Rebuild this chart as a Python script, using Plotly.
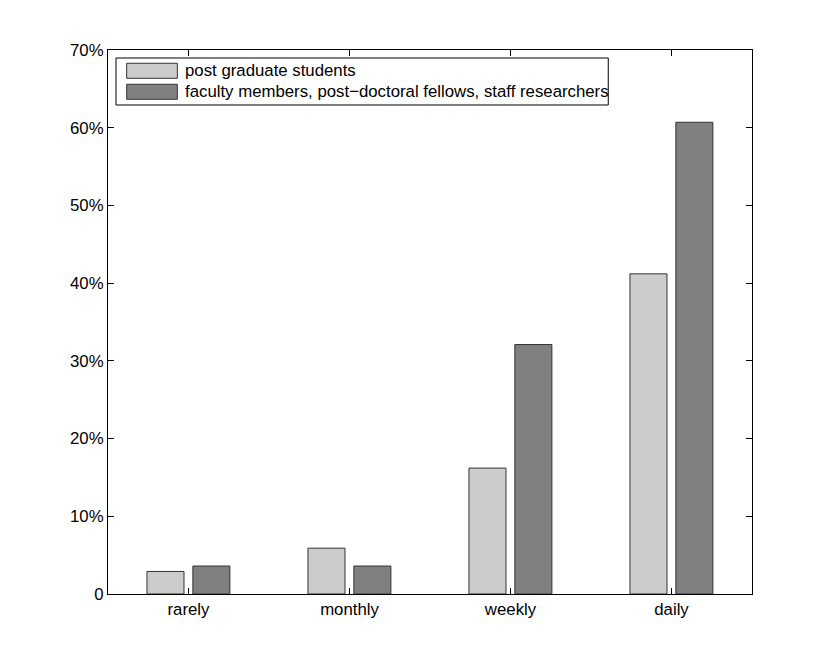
import plotly.graph_objects as go

categories = ["rarely", "monthly", "weekly", "daily"]
postgrad = [2.9, 5.9, 16.2, 41.2]
faculty = [3.6, 3.6, 32.1, 60.7]
series_names = ["post graduate students",
                "faculty members, post\u2212doctoral fellows, staff researchers"]
ytick_vals = [0, 10, 20, 30, 40, 50, 60, 70]
ytick_text = ["0", "10%", "20%", "30%", "40%", "50%", "60%", "70%"]

light = "#cccccc"
dark = "#808080"
xpos = list(range(1, len(categories) + 1))

fig = go.Figure()
fig.add_trace(go.Bar(x=xpos, y=postgrad, name=series_names[0], width=0.23, offset=-0.258,
                     marker=dict(color=light, line=dict(color="#333333", width=1)), showlegend=False))
fig.add_trace(go.Bar(x=xpos, y=faculty, name=series_names[1], width=0.23, offset=0.027,
                     marker=dict(color=dark, line=dict(color="#333333", width=1)), showlegend=False))

font = dict(family="Liberation Sans, Arial, sans-serif", size=16.8, color="black")

fig.update_layout(
    width=822, height=660,
    margin=dict(l=100, r=78, t=42, b=74),
    plot_bgcolor="white", paper_bgcolor="white",
    font=font,
    barmode="overlay",
    xaxis=dict(range=[0.5, 4.5], tickvals=xpos, ticktext=categories,
               ticks="inside", ticklen=6, tickcolor="black", showline=True, linecolor="black",
               linewidth=1, mirror="allticks", showgrid=False, zeroline=False, tickfont=font),
    yaxis=dict(range=[0, 70], tickvals=ytick_vals, ticktext=ytick_text,
               ticks="inside", ticklen=6, tickcolor="black", showline=True, linecolor="black",
               linewidth=1, mirror="allticks", showgrid=False, zeroline=False, tickfont=font),
)

# custom MATLAB-style legend
fig.add_shape(type="rect", xref="paper", yref="paper", x0=0.0124, x1=0.7768, y0=0.8989, y1=0.9853,
              line=dict(color="black", width=1), fillcolor="white")
fig.add_shape(type="rect", xref="paper", yref="paper", x0=0.029, x1=0.1077, y0=0.948, y1=0.9756,
              line=dict(color="#333333", width=1), fillcolor=light)
fig.add_shape(type="rect", xref="paper", yref="paper", x0=0.029, x1=0.1077, y0=0.9094, y1=0.937,
              line=dict(color="#333333", width=1), fillcolor=dark)
for name, yy in zip(series_names, [0.962, 0.923]):
    fig.add_annotation(xref="paper", yref="paper", x=0.117, y=yy, text=name, showarrow=False,
                       xanchor="left", yanchor="middle", font=font)

fig.write_html("out.html")
